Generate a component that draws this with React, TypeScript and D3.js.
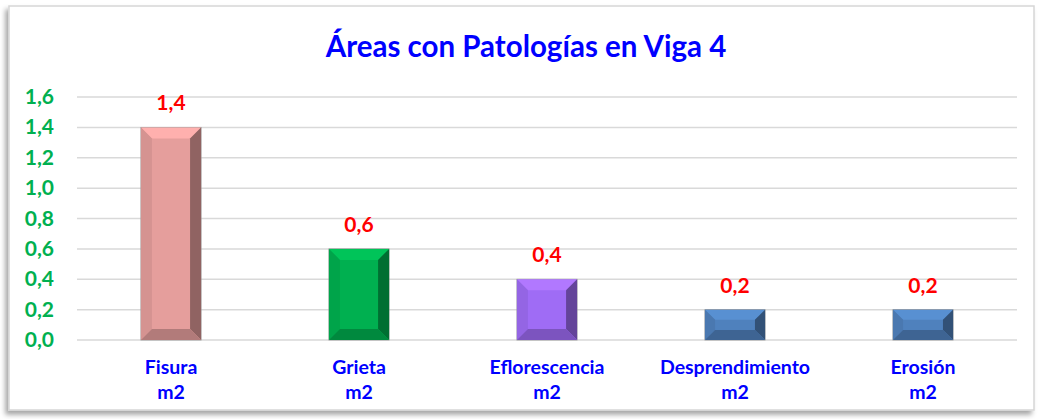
import React from 'react';
import * as d3 from 'd3';

const categories = ['Fisura', 'Grieta', 'Eflorescencia', 'Desprendimiento', 'Erosión'];
const unitLabels = ['m2', 'm2', 'm2', 'm2', 'm2'];
const values = [1.4, 0.6, 0.4, 0.2, 0.2];
const barColors = ['#E59E9C', '#00B050', '#9F6CF5', '#4F81BD', '#4F81BD'];
const yTicks = [0, 0.2, 0.4, 0.6, 0.8, 1.0, 1.2, 1.4, 1.6];

const W = 1038;
const H = 419;
const margin = { top: 97, right: 21, bottom: 79, left: 77 };
const font = 'Lato, "Open Sans", sans-serif';

const fmt = (v: number) => v.toFixed(1).replace('.', ',');

export default function App() {
  const x = d3
    .scaleBand<string>()
    .domain(categories)
    .range([margin.left, W - margin.right])
    .paddingInner(0.68)
    .paddingOuter(0.34);
  const y = d3
    .scaleLinear()
    .domain([0, 1.6])
    .range([H - margin.bottom, margin.top]);

  const bw = x.bandwidth();

  return (
    <svg
      width={W}
      height={H}
      style={{ position: 'absolute', left: 0, top: 0, display: 'block' }}
    >
      <defs>
        <filter id="frameShadow" x="-5%" y="-5%" width="110%" height="115%">
          <feDropShadow dx="-3" dy="4" stdDeviation="2.5" floodColor="#000" floodOpacity="0.35" />
        </filter>
      </defs>

      {/* chart frame */}
      <rect x={9} y={6} width={1025} height={404} fill="#fff" stroke="#d6d6d6" strokeWidth={1.5} filter="url(#frameShadow)" />

      {/* title */}
      <text x={526} y={57} textAnchor="middle" fontFamily={font} fontWeight={700} fontSize={29.5} fill="#0000FF">
        Áreas con Patologías en Viga 4
      </text>

      {/* grid */}
      {yTicks.map((t) => (
        <line key={t} x1={margin.left} x2={W - margin.right} y1={y(t)} y2={y(t)} stroke="#d9d9d9" strokeWidth={1.5} />
      ))}
      {yTicks.map((t) => (
        <text key={'l' + t} x={54} y={y(t) + 7} textAnchor="end" fontFamily={font} fontWeight={700} fontSize={21} fill="#00B050">
          {fmt(t)}
        </text>
      ))}

      {/* bars */}
      {categories.map((c, i) => {
        const x0 = x(c)!;
        const y0 = y(values[i]);
        const h = y(0) - y0;
        const x1 = x0 + bw;
        const y1 = y(0);
        const b = Math.min(11, h / 3);
        const base = barColors[i];
        const light = d3.color(base)!.brighter(0.3).formatHex();
        const left = d3.color(base)!.darker(0.2).formatHex();
        const dark = d3.color(base)!.darker(0.7).formatHex();
        const darker = d3.color(base)!.darker(1.3).formatHex();
        return (
          <g key={c}>
            <rect x={x0} y={y0} width={bw} height={h} fill={base} stroke="#999" strokeWidth={0.8} />
            <path d={`M${x0},${y0}L${x1},${y0}L${x1 - b},${y0 + b}L${x0 + b},${y0 + b}Z`} fill={light} />
            <path d={`M${x0},${y0}L${x0 + b},${y0 + b}L${x0 + b},${y1 - b}L${x0},${y1}Z`} fill={left} />
            <path d={`M${x1},${y0}L${x1},${y1}L${x1 - b},${y1 - b}L${x1 - b},${y0 + b}Z`} fill={darker} />
            <path d={`M${x0},${y1}L${x1},${y1}L${x1 - b},${y1 - b}L${x0 + b},${y1 - b}Z`} fill={dark} />
            <text x={x0 + bw / 2} y={y0 - 17} textAnchor="middle" fontFamily={font} fontWeight={700} fontSize={21} fill="#FF0000">
              {fmt(values[i])}
            </text>
            <text x={x0 + bw / 2} y={374} textAnchor="middle" fontFamily={font} fontWeight={700} fontSize={19.5} fill="#0000FF">
              {c}
            </text>
            <text x={x0 + bw / 2} y={399} textAnchor="middle" fontFamily={font} fontWeight={700} fontSize={19.5} fill="#0000FF">
              {unitLabels[i]}
            </text>
          </g>
        );
      })}
    </svg>
  );
}
